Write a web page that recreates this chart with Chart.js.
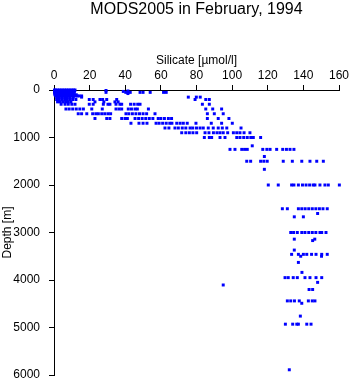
<!DOCTYPE html>
<html><head><meta charset="utf-8">
<script src="https://cdn.jsdelivr.net/npm/chart.js@4"></script>
<style>html,body{margin:0;padding:0;background:#fff}canvas{display:block}</style>
</head><body>
<canvas id="c" width="351" height="384"></canvas>
<script>
const titleText = 'MODS2005 in February, 1994';
const xTitle = 'Silicate [µmol/l]';
const yTitle = 'Depth [m]';
const xTicks = [0, 20, 40, 60, 80, 100, 120, 140, 160];
const yTicks = [0, 1000, 2000, 3000, 4000, 5000, 6000];

const depthLevels = [0, 10, 20, 30, 50, 75, 100, 125, 150, 200, 250, 300, 400, 500, 600, 700, 800, 900, 1000, 1175, 1250, 1400, 1500, 1670, 2000, 2500, 2600, 2670, 3000, 3140, 3170, 3370, 3460, 3500, 3630, 3840, 3950, 4050, 4105, 4200, 4440, 4490, 4760, 4930, 5890];

const silicateByLevel = [
  [0.3, 1, 2, 3, 4, 5, 6, 7, 8, 9, 10, 11, 11.8],
  [0.5, 1.5, 2.5, 3.5, 4.5, 5.5, 6.5, 7.5, 8.5, 9.5, 10.5, 11.5, 29.2],
  [0.3, 1, 2, 3, 4, 5, 6, 7, 8, 9, 10, 11, 41.5],
  [0.5, 1.5, 2.5, 3.5, 4.5, 5.5, 6.5, 7.5, 8.5, 9.5, 10.5, 11.5, 38.9],
  [0.3, 1, 2, 3, 4, 5, 6, 7, 8, 9, 10, 11, 29.2, 40.3, 41.5, 42.8, 48.3, 50, 54, 61.5, 63],
  [0.5, 1.5, 2.5, 3.5, 4.5, 5.5, 6.5, 7.5, 8.5, 9.5, 10.5, 41.5],
  [0.5, 1.5, 2.5, 3.5, 4.5, 5.5, 6.5, 7.5, 8.5, 9.5, 10.5, 11.5, 12.5],
  [1, 2, 3, 4, 5, 6, 7, 8, 9, 10, 11, 12, 13, 14, 15.5],
  [1.5, 3, 4.5, 6, 7.5, 9, 10.8, 15.5, 75.4, 79.9, 82.1],
  [1.5, 3, 4.5, 6, 7.5, 9, 10.5, 12.3, 19.8, 22, 25.8, 27.3, 29.6, 35.2, 79.2, 85.2, 87.2],
  [2, 3.5, 5, 6.5, 8, 9.5, 23, 28, 34.2, 36],
  [4, 6.2, 8, 10, 11.8, 19.8, 22, 27.7, 30.3, 31.4, 34.8, 37, 38, 43, 45, 47, 48.3, 83.3, 87.2],
  [6.7, 8.5, 10.5, 12.5, 14.5, 16.5, 21.2, 27.1, 34.8, 36.5, 38, 41.7, 43.5, 45.5, 46.8, 53, 85.2, 89.1, 94.1],
  [13.6, 15.5, 18.4, 21.7, 23.5, 24.9, 26.8, 28.5, 30.3, 31.8, 40.4, 42, 44, 46, 48, 50, 52, 56.7, 86.1, 90, 95],
  [23, 29.6, 31.4, 38, 39.9, 41.2, 45.5, 47.5, 49.5, 51.5, 53.5, 55.5, 58.5, 60, 62, 64.2, 66, 86.1, 92.2, 98.2],
  [43.2, 47.7, 50, 52.2, 57.3, 59, 61, 63, 65, 66.2, 68.9, 70.8, 72.6, 74.8, 79.7, 88.3, 94.1, 100.1],
  [62.3, 64.5, 67.9, 69.8, 72, 74, 76.4, 77.9, 80, 82, 83.8, 86.6, 89.4, 92.2, 94.5, 97, 105],
  [71.7, 74, 76, 78, 80.1, 84.8, 87, 89.5, 91.5, 93.2, 95, 97.5, 100.7, 102.6, 104.4, 106.7, 110],
  [84.4, 87.2, 88.5, 93.2, 96, 102.6, 104.4, 106.5, 108.5, 110.5, 111.9, 116],
  [111.3],
  [98.8, 101.6, 105.4, 107, 108.5, 117.2, 119.5, 121.3, 125, 128.4, 130.5, 132.5, 134.7],
  [118.1],
  [108.2, 110.4, 116, 117.8, 119.7, 128.7, 133.8, 139.1, 143.7, 147.5, 151.2],
  [118.1],
  [120.3, 125.9, 133.4, 134.7, 137.2, 139.5, 141.5, 143.5, 145.5, 146.5, 149.3, 152.1, 154, 160.2],
  [128.2, 131, 137.2, 139.1, 141, 143, 145, 147, 149, 151, 153.4],
  [148],
  [134.9, 140],
  [132.9, 134.5, 136.6, 139.1, 140.9, 143, 145, 147, 149.3, 150.3, 152.7],
  [134.9, 146.4],
  [145.2],
  [134.9],
  [133.4, 137.2, 140, 141.9, 144.6, 147.1, 150.3, 153.4],
  [138.5, 150.2],
  [137.2],
  [139.2],
  [129.7, 131.5, 134.3, 136.6, 140.9, 143.7, 147.1, 150.3],
  [148],
  [95],
  [143.2, 145.2],
  [131, 132.9, 135, 137.7, 142.8, 145, 146.5],
  [139.1],
  [138.3],
  [129.9, 134, 136.3, 137.2, 141.9, 144.3],
  [132.1]
];

const points = [];
depthLevels.forEach((d, i) => {
  silicateByLevel[i].forEach(s => points.push({ x: s, y: d }));
});

const FONT = 'Liberation Sans, Arial, Helvetica, sans-serif';

new Chart(document.getElementById('c'), {
  type: 'scatter',
  data: {
    datasets: [{
      data: points,
      pointStyle: 'rect',
      pointRadius: 2.1,
      pointHoverRadius: 2.1,
      backgroundColor: '#0000ff',
      borderColor: '#0000ff',
      borderWidth: 0,
      showLine: false,
      clip: false
    }]
  },
  options: {
    responsive: false,
    animation: false,
    devicePixelRatio: 1,
    events: [],
    layout: { padding: { left: 0, right: 12, top: 0, bottom: 9 } },
    plugins: {
      legend: { display: false },
      tooltip: { enabled: false },
      title: {
        display: true, text: titleText, fullSize: false, color: '#000',
        font: { family: FONT, size: 16, weight: 'normal', lineHeight: 1 },
        padding: { top: 2, bottom: 0 }
      }
    },
    scales: {
      x: {
        type: 'linear', position: 'top', min: 0, max: 160,
        afterFit: s => { s.height = 72; s.paddingLeft = 0; s.paddingRight = 0; },
        afterBuildTicks: s => { s.ticks = xTicks.map(v => ({ value: v })); },
        ticks: { color: '#000', font: { family: FONT, size: 12 }, padding: 2, maxRotation: 0, autoSkip: false, callback: v => String(v) },
        grid: { drawOnChartArea: false, drawTicks: true, tickLength: 5, color: '#000', lineWidth: 1 },
        border: { display: true, color: '#000', width: 1 },
        title: { display: true, text: xTitle, color: '#000', font: { family: FONT, size: 12 }, padding: { top: 35, bottom: 0 } }
      },
      y: {
        type: 'linear', position: 'left', reverse: true, min: 0, max: 6000,
        afterFit: s => { s.width = 54; s.paddingTop = 0; s.paddingBottom = 0; },
        afterBuildTicks: s => { s.ticks = yTicks.map(v => ({ value: v })); },
        ticks: { color: '#000', font: { family: FONT, size: 12 }, padding: 9, autoSkip: false, callback: v => String(v) },
        grid: { drawOnChartArea: false, drawTicks: true, tickLength: 5, color: '#000', lineWidth: 1 },
        border: { display: true, color: '#000', width: 1 },
        title: { display: true, text: yTitle, color: '#000', font: { family: FONT, size: 12 }, padding: { top: 0, bottom: 0 } }
      }
    }
  }
});
</script>
</body></html>
